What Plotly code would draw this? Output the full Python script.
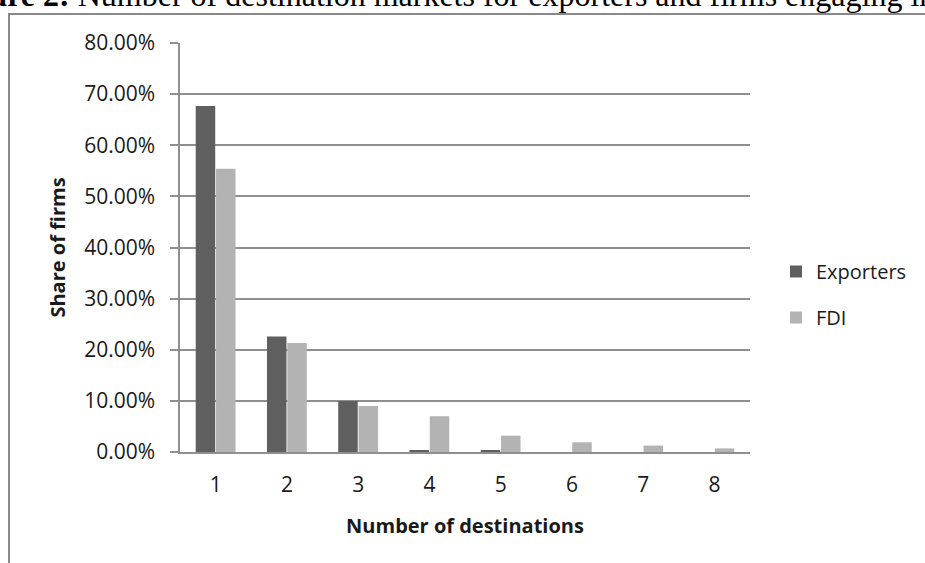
import plotly.graph_objects as go

categories = ["1", "2", "3", "4", "5", "6", "7", "8"]
exporters = [0.677, 0.226, 0.100, 0.003, 0.003, 0.0, 0.0, 0.0]
fdi = [0.554, 0.213, 0.090, 0.070, 0.032, 0.019, 0.0125, 0.007]
y_ticks = [0, 0.1, 0.2, 0.3, 0.4, 0.5, 0.6, 0.7, 0.8]

W, H = 925, 563
L, R, T, B = 180, 175, 43, 111
pw, ph = W - L - R, H - T - B

def px_x(p):
    return (p - L) / pw

def px_y(p):
    return (H - B - p) / ph

fig = go.Figure()
fig.add_trace(go.Bar(x=categories, y=exporters, name="Exporters",
                     marker=dict(color="#5f5f5f", line=dict(width=0)),
                     legendgroup="a"))
fig.add_trace(go.Bar(x=categories, y=fdi, name="FDI",
                     marker=dict(color="#b3b3b3", line=dict(width=0)),
                     legendgroup="b"))

grid = "#8f8f8f"
font = "Open Sans"
fig.update_layout(
    width=W, height=H,
    margin=dict(l=L, r=R, t=T, b=B),
    paper_bgcolor="white", plot_bgcolor="white",
    barmode="group", bargap=0.43, bargroupgap=0.04,
    showlegend=True,
    legend=dict(x=px_x(776), y=px_y(252), xanchor="left", yanchor="top",
                font=dict(family=font, size=20, color="#1a1a1a"),
                tracegroupgap=17, bgcolor="rgba(0,0,0,0)"),
    xaxis=dict(
        type="category", showgrid=False, showline=True, linecolor=grid, linewidth=1.5,
        ticks="", tickfont=dict(family=font, size=21, color="#1a1a1a"),
        ticklabelstandoff=13,
        title=dict(text="<b>Number of destinations</b>", standoff=22,
                   font=dict(family=font, size=20, color="#1a1a1a")),
    ),
    yaxis=dict(
        range=[0, 0.8], tickvals=y_ticks, tickformat=".2%",
        showgrid=True, gridcolor=grid, gridwidth=1.5,
        showline=True, linecolor=grid, linewidth=1.5,
        ticks="outside", ticklen=8, tickcolor=grid, tickwidth=1.5,
        ticklabelstandoff=11,
        tickfont=dict(family=font, size=21, color="#1a1a1a"),
        zeroline=False,
        title=dict(text="<b>Share of firms</b>", standoff=13,
                   font=dict(family=font, size=20, color="#1a1a1a")),
    ),
)

fig.add_shape(type="rect", xref="paper", yref="paper",
              x0=px_x(9), x1=px_x(945), y0=px_y(14), y1=px_y(600),
              line=dict(color="#888888", width=2), fillcolor="rgba(0,0,0,0)",
              layer="below")

fig.add_annotation(
    xref="paper", yref="paper", x=px_x(-57), y=px_y(-5),
    xanchor="left", yanchor="middle", showarrow=False,
    text="<b>Figure 2:</b> Number of destination markets for exporters and firms engaging in FDI",
    font=dict(family="Liberation Serif", size=32, color="black"),
)

fig.write_html("out.html")
